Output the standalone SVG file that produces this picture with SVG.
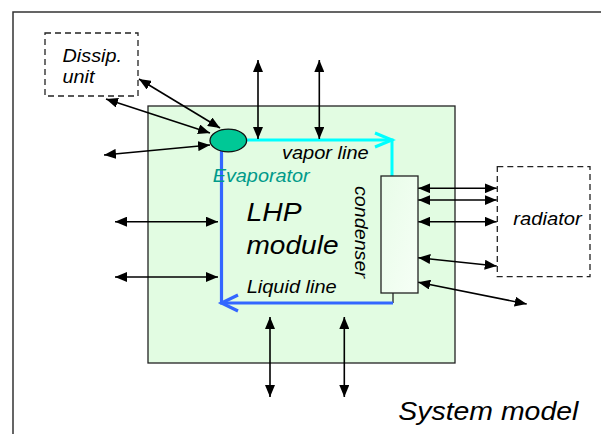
<svg xmlns="http://www.w3.org/2000/svg" width="601" height="434" viewBox="0 0 601 434">
<style>
text{font-family:"Liberation Sans",Arial,sans-serif;font-style:italic;}
.s{font-size:18.5px;}
.l{font-size:26.5px;}
.arr{stroke:#000;stroke-width:1.6;fill:none;marker-start:url(#ah);marker-end:url(#ah);}
.dash{fill:#fff;stroke:#222;stroke-width:1.3;stroke-dasharray:6,4;}
</style>
<defs>
<marker id="ah" markerUnits="userSpaceOnUse" markerWidth="12" markerHeight="10" refX="12" refY="5" orient="auto-start-reverse">
<path d="M0,0 L12,5 L0,10 z" fill="#000"/>
</marker>
<linearGradient id="cg" x1="0" y1="0" x2="1" y2="1">
<stop offset="0" stop-color="#e8fce8"/>
<stop offset="1" stop-color="#f6fff6"/>
</linearGradient>
</defs>
<rect x="0" y="0" width="601" height="434" fill="#fff"/>
<path id="frame" d="M13,440 V12 H610" fill="none" stroke="#333" stroke-width="1.5"/>
<g id="lhp-module">
<rect x="148" y="106" width="307" height="257" fill="#e2fce2" stroke="#222" stroke-width="1.3"/>
<text class="l" x="246.5" y="221.3" textLength="55" lengthAdjust="spacingAndGlyphs">LHP</text>
<text class="l" x="246.5" y="254.3" textLength="92" lengthAdjust="spacingAndGlyphs">module</text>
</g>
<g id="dissip-unit">
<rect class="dash" x="45" y="33" width="93" height="63"/>
<text class="s" x="62.5" y="61.7" textLength="59.5" lengthAdjust="spacingAndGlyphs">Dissip.</text>
<text class="s" x="62.5" y="83.3" textLength="32" lengthAdjust="spacingAndGlyphs">unit</text>
</g>
<g id="radiator">
<rect class="dash" x="497.3" y="166.7" width="92.7" height="110"/>
<text class="s" x="513.3" y="225" textLength="68.4" lengthAdjust="spacingAndGlyphs">radiator</text>
</g>
<g id="lines">
<path d="M246,140 H392 V176" fill="none" stroke="#00ffff" stroke-width="3"/>
<path d="M375,133 L392,140 L375,147" fill="none" stroke="#00ffff" stroke-width="3"/>
<path d="M393,293 V303" fill="none" stroke="#222" stroke-width="1.3"/>
<path d="M393,303 H221.5 V151" fill="none" stroke="#3366ff" stroke-width="3.2"/>
<path d="M238,295 L221.5,303 L238,311" fill="none" stroke="#3366ff" stroke-width="3.2"/>
<text class="s" x="282" y="159.3" textLength="86.7" lengthAdjust="spacingAndGlyphs">vapor line</text>
<text class="s" x="246.7" y="292.7" textLength="90" lengthAdjust="spacingAndGlyphs">Liquid line</text>
</g>
<g id="evaporator">
<ellipse cx="228.3" cy="140.5" rx="18.3" ry="11.4" fill="#00c896" stroke="#111" stroke-width="1.3"/>
<text class="s" x="212.7" y="181.7" fill="#009a8a" textLength="97" lengthAdjust="spacingAndGlyphs">Evaporator</text>
</g>
<g id="condenser">
<rect x="381" y="176" width="37" height="117" fill="url(#cg)" stroke="#222" stroke-width="1.3"/>
<text class="s" transform="translate(355,186) rotate(90)" textLength="92" lengthAdjust="spacingAndGlyphs">condenser</text>
</g>
<g id="connectors">
<path class="arr" d="M139,79 L220,128"/>
<path class="arr" d="M106,99 L210,133"/>
<path class="arr" d="M104,155 L210,145"/>
<path class="arr" d="M258,60 V139"/>
<path class="arr" d="M319.3,60 V139"/>
<path class="arr" d="M115,221.7 H218"/>
<path class="arr" d="M115,277 H218"/>
<path class="arr" d="M270,317 V397"/>
<path class="arr" d="M344.3,317 V397"/>
<path class="arr" d="M418.3,188.3 H496.7"/>
<path class="arr" d="M418.3,200 H496.7"/>
<path class="arr" d="M418.3,221.7 H496.7"/>
<path class="arr" d="M418.3,257.7 L496.7,266"/>
<path class="arr" d="M418.3,282.3 L526.7,304"/>
</g>
<text id="title" class="l" x="398.3" y="420" textLength="180" lengthAdjust="spacingAndGlyphs">System model</text>
</svg>
